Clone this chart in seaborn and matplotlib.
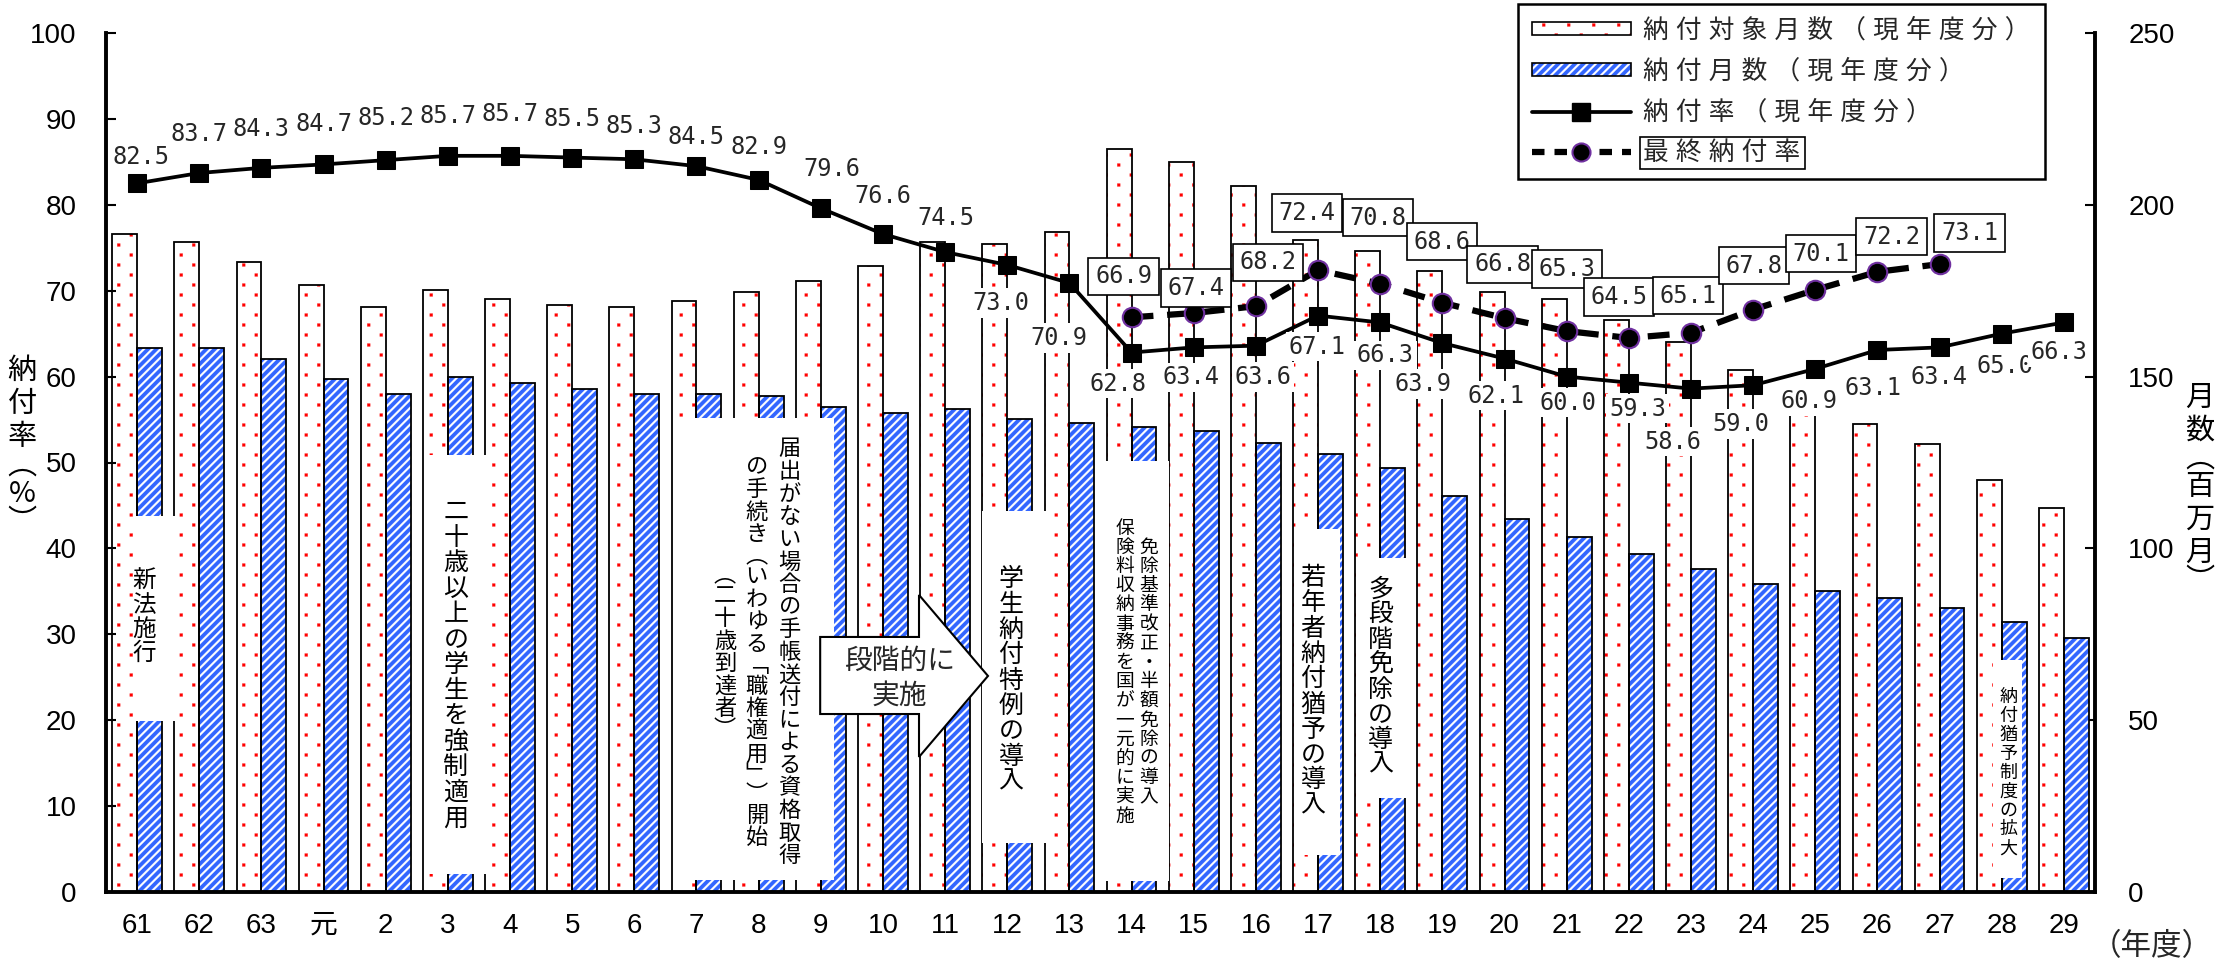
import numpy as np
import pandas as pd
import matplotlib
matplotlib.use("Agg")
import matplotlib.pyplot as plt
import matplotlib.hatch as mhatch
from matplotlib.path import Path
from matplotlib.patches import Rectangle, Polygon, Patch
from matplotlib.lines import Line2D
import seaborn as sns

# ---- data ---------------------------------------------------------------
years = ["61", "62", "63", "元"] + [str(y) for y in range(2, 30)]

# 納付対象月数（現年度分） [百万月]
target_months = [191.6, 189.1, 183.4, 176.6, 170.2, 175.2, 172.7, 170.7,
                 170.2, 172.0, 174.5, 177.8, 182.3, 189.1, 188.5, 192.2,
                 216.2, 212.5, 205.6, 189.8, 186.6, 180.8, 174.5, 172.6,
                 166.5, 160.0, 151.9, 144.0, 136.2, 130.5, 119.8, 111.8]
# 納付月数（現年度分） [百万月]
paid_months = [158.2, 158.2, 155.1, 149.4, 145.0, 150.0, 148.2, 146.3,
               145.0, 145.0, 144.4, 141.2, 139.3, 140.6, 137.6, 136.4,
               135.4, 134.3, 130.6, 127.4, 123.5, 115.3, 108.5, 103.4,
               98.5, 93.9, 89.6, 87.7, 85.7, 82.6, 78.6, 74.0]
# 納付率（現年度分） [%]
payment_rate = [82.5, 83.7, 84.3, 84.7, 85.2, 85.7, 85.7, 85.5, 85.3, 84.5,
                82.9, 79.6, 76.6, 74.5, 73.0, 70.9, 62.8, 63.4, 63.6, 67.1,
                66.3, 63.9, 62.1, 60.0, 59.3, 58.6, 59.0, 60.9, 63.1, 63.4,
                65.0, 66.3]
# 最終納付率 [%]
final_years = [str(y) for y in range(14, 28)]
final_rate = [66.9, 67.4, 68.2, 72.4, 70.8, 68.6, 66.8, 65.3, 64.5, 65.1,
              67.8, 70.1, 72.2, 73.1]

series_target = "納付対象月数（現年度分）"
series_paid = "納付月数（現年度分）"
series_rate = "納付率（現年度分）"
series_final = "最終納付率"

# ---- label placement (pixel offsets from each marker: dx, dy up) ---------
rate_label_offsets = [(4, 26), (0, 39), (0, 39), (0, 40), (0, 42), (0, 40),
                      (0, 42), (0, 39), (0, 33), (0, 29), (0, 33), (11, 39),
                      (0, 38), (1, 34), (-6, -38), (-11, -55), (-14, -31),
                      (-3, -30), (7, -31), (-1, -31), (5, -33), (-19, -41),
                      (-9, -37), (1, -26), (9, -26), (-18, -53), (-12, -39),
                      (-6, -32), (-4, -38), (-1, -30), (3, -32), (-5, -30)]
final_label_offsets = [(-8, 41), (2, 25), (12, 44), (-11, 57), (-2, 66),
                       (0, 61), (-2, 54), (0, 62), (-10, 41), (-3, 37),
                       (1, 44), (6, 36), (14, 35), (30, 31)]


# ---- fill patterns: sparse red dots and wide diagonal bands -------------
class SparseDots(mhatch.HatchPatternBase):
    """'.' -> small square dots on a staggered 12.5 x 20 px grid."""
    filled = True

    def __init__(self, hatch, density):
        self.pts = []
        if "." in hatch:
            for i in range(8):
                for j in range(5):
                    self.pts.append(((i + 0.5) / 8,
                                     (j + 0.25) / 5 + (i % 2) * 0.1))
        self.num_vertices = 5 * len(self.pts)

    def set_vertices_and_codes(self, vertices, codes):
        s = 0.0145
        for k, (x, y) in enumerate(self.pts):
            vertices[5 * k:5 * k + 5] = [(x - s, y - s), (x + s, y - s),
                                         (x + s, y + s), (x - s, y + s),
                                         (x - s, y - s)]
            codes[5 * k:5 * k + 5] = [Path.MOVETO, Path.LINETO, Path.LINETO,
                                      Path.LINETO, Path.CLOSEPOLY]


class DiagonalBands(mhatch.HatchPatternBase):
    """'/' -> filled 45-degree bands, 12 per hatch unit."""
    filled = True

    def __init__(self, hatch, density):
        n = 12 if "/" in hatch else 0
        self.width = 0.32 / 12
        self.offsets = np.arange(-2 * n, 2 * n + 1) / n if n else []
        self.num_vertices = 5 * len(self.offsets)

    def set_vertices_and_codes(self, vertices, codes):
        w = self.width
        for k, o in enumerate(self.offsets):
            vertices[5 * k:5 * k + 5] = [(o - 0.5, -0.5), (o + 1.5, 1.5),
                                         (o + 1.5 + w, 1.5), (o - 0.5 + w, -0.5),
                                         (o - 0.5, -0.5)]
            codes[5 * k:5 * k + 5] = [Path.MOVETO, Path.LINETO, Path.LINETO,
                                      Path.LINETO, Path.CLOSEPOLY]


_custom_hatches = hasattr(mhatch, "_hatch_types")
if _custom_hatches:
    mhatch._hatch_types = [t for t in mhatch._hatch_types
                           if t.__name__ not in ("SmallFilledCircles",
                                                 "NorthEastHatch")]
    mhatch._hatch_types += [SparseDots, DiagonalBands]

# ---- style ----------------------------------------------------------------
sns.set_theme(style="white")
JP = ["Noto Sans CJK JP", "DejaVu Sans"]
NUM = ["Liberation Sans", "Noto Sans CJK JP", "DejaVu Sans"]
MONO = ["DejaVu Sans Mono", "Noto Sans CJK JP"]
plt.rcParams["font.family"] = NUM
plt.rcParams["hatch.linewidth"] = 0.15 if _custom_hatches else 2.0

BLUE = "#3366ff"
RED = "#ff0000"
PT = 72 / 100.0          # points per pixel at 100 dpi
W_PX, H_PX = 2223, 960
HW_DOTS = 0.15 if _custom_hatches else 0.5
HW_BANDS = 0.15 if _custom_hatches else 2.0


def set_hatch_width(patch, lw):
    if hasattr(patch, "set_hatch_linewidth"):
        patch.set_hatch_linewidth(lw)


def spaced(s):
    return " ".join(list(s))


VERTICAL_FORMS = {"（": "\ufe35", "）": "\ufe36", "「": "\ufe41", "」": "\ufe42"}


def vertical_text(ax, x, y, text, size, pitch, coords="data", bracket=0.75,
                  zorder=4):
    """Stack the characters of `text` top-to-bottom, centred on (x, y)."""
    adv = [pitch * (bracket if c in VERTICAL_FORMS else 1.0) for c in text]
    cur = sum(adv) / 2.0
    for c, a in zip(text, adv):
        cy = cur - a / 2.0
        ax.annotate(VERTICAL_FORMS.get(c, c), xy=(x, y), xycoords=coords,
                    xytext=(0, cy * PT), textcoords="offset points",
                    ha="center", va="center", fontsize=size, family=JP,
                    color="black", zorder=zorder, annotation_clip=False)
        cur -= a


# ---- figure / axes --------------------------------------------------------
fig = plt.figure(figsize=(W_PX / 100, H_PX / 100), dpi=100)
left, right, bottom, top = 106 / W_PX, 2095 / W_PX, 1 - 892 / H_PX, 1 - 33 / H_PX
ax_bar = fig.add_axes([left, bottom, right - left, top - bottom])
ax_rate = ax_bar.twinx()

pos = np.arange(len(years))
bars = pd.DataFrame({
    "pos": np.concatenate([pos, pos]),
    "months": target_months + paid_months,
    "series": [series_target] * len(pos) + [series_paid] * len(pos),
})
sns.barplot(data=bars, x="pos", y="months", hue="series",
            hue_order=[series_target, series_paid], native_scale=True,
            width=0.8, errorbar=None, palette=["white", BLUE], saturation=1,
            legend=False, ax=ax_bar)

outlines = []
for p in list(ax_bar.patches):
    fc = p.get_facecolor()
    is_target = fc[0] > 0.9 and fc[1] > 0.9
    if is_target:
        p.set_facecolor("white")
        p.set_edgecolor(RED)
        p.set_hatch(".")
        set_hatch_width(p, HW_DOTS)
    else:
        p.set_facecolor(BLUE)
        p.set_edgecolor("white")
        p.set_hatch("//")
        set_hatch_width(p, HW_BANDS)
    p.set_linewidth(0)
    outlines.append((p.get_x(), p.get_width(), p.get_height(), p.get_zorder()))
for x0, w, h, z in outlines:
    ax_bar.add_patch(Rectangle((x0, 0), w, h, fill=False, ec="black",
                               lw=1.3, zorder=z + 0.1))

# ---- lines ------------------------------------------------------------------
sns.lineplot(x=pos, y=payment_rate, ax=ax_rate, color="black", lw=2.7,
             marker="s", markersize=12.5, markeredgecolor="black",
             markerfacecolor="black", zorder=4)
fpos = np.array([years.index(y) for y in final_years])
sns.lineplot(x=fpos, y=final_rate, ax=ax_rate, color="black", lw=4.5,
             linestyle=(0, (3.5, 2.2)), marker="o", markersize=14,
             markerfacecolor="black", markeredgecolor="#7030a0",
             markeredgewidth=1.5, zorder=4)

for x, v, (dx, dy) in zip(pos, payment_rate, rate_label_offsets):
    ax_rate.annotate(f"{v:.1f}", xy=(x, v), xytext=(dx * PT, dy * PT),
                     textcoords="offset points", ha="center", va="center",
                     fontsize=17, family=MONO, zorder=6,
                     bbox=dict(boxstyle="square,pad=0.12", fc="white",
                               ec="none"))
for x, v, (dx, dy) in zip(fpos, final_rate, final_label_offsets):
    ax_rate.annotate(f"{v:.1f}", xy=(x, v), xytext=(dx * PT, dy * PT),
                     textcoords="offset points", ha="center", va="center",
                     fontsize=17, family=MONO, zorder=7,
                     bbox=dict(boxstyle="square,pad=0.28", fc="white",
                               ec="black", lw=1.2))

# ---- policy notes -----------------------------------------------------------
panels = [(-0.07, 0.61, 19.9, 43.8), (4.62, 5.63, 2.1, 50.9),
          (8.64, 11.21, 1.4, 55.2), (13.59, 14.62, 5.7, 44.4),
          (15.41, 16.60, 1.3, 50.2), (18.61, 19.35, 4.3, 42.3),
          (19.61, 20.43, 10.9, 38.9), (29.86, 30.32, 1.6, 27.0)]
for x0, x1, y0, y1 in panels:
    ax_rate.add_patch(Rectangle((x0, y0), x1 - x0, y1 - y0, fc="white",
                                ec="none", zorder=2))

vertical_text(ax_rate, 0.11, 32.0, "新法施行", 17, 24)
vertical_text(ax_rate, 5.13, 26.4, "二十歳以上の学生を強制適用", 18, 25.5)
vertical_text(ax_rate, 10.50, 27.9, "届出がない場合の手帳送付による資格取得", 16, 22.6)
vertical_text(ax_rate, 9.97, 27.9, "の手続き（いわゆる「職権適用」）開始", 16, 22.6,
              bracket=0.85)
vertical_text(ax_rate, 9.46, 27.9, "（二十歳到達者）", 16, 22.6, bracket=0.85)
vertical_text(ax_rate, 14.06, 24.6, "学生納付特例の導入", 18, 25.3)
vertical_text(ax_rate, 16.28, 25.6, "免除基準改正・半額免除の導入", 13.5, 19.2)
vertical_text(ax_rate, 15.89, 25.6, "保険料収納事務を国が一元的に実施", 13.5, 19.2)
vertical_text(ax_rate, 18.92, 23.3, "若年者納付猶予の導入", 18, 25.3)
vertical_text(ax_rate, 20.01, 25.0, "多段階免除の導入", 18, 25.0)
vertical_text(ax_rate, 30.11, 13.9, "納付猶予制度の拡大", 13, 18.9)

arrow = Polygon([(10.99, 29.69), (12.58, 29.69), (12.58, 34.58), (13.69, 25.15),
                 (12.58, 15.72), (12.58, 20.72), (10.99, 20.72)],
                closed=True, fc="white", ec="black", lw=1.5, zorder=2.5)
ax_rate.add_patch(arrow)
ax_rate.text(12.27, 26.9, "段階的に", ha="center", va="center", fontsize=20,
             family=JP, zorder=4)
ax_rate.text(12.27, 22.8, "実施", ha="center", va="center", fontsize=20,
             family=JP, zorder=4)

# ---- axes -------------------------------------------------------------------
ax_bar.set_xlim(-0.5, len(years) - 0.5)
ax_bar.set_ylim(0, 250)
ax_rate.set_ylim(0, 100)
ax_bar.set_xlabel("")
ax_bar.set_ylabel("")
ax_rate.set_xlabel("")
ax_rate.set_ylabel("")

ax_bar.set_xticks(pos)
ax_bar.set_xticklabels(years)
ax_bar.set_xticks(pos[:-1] + 0.5, minor=True)
ax_bar.tick_params(axis="x", which="major", length=0, pad=15, labelsize=20)
ax_bar.tick_params(axis="x", which="minor", direction="in", length=6,
                   width=1.5, color="black")

ax_bar.yaxis.set_ticks_position("right")
ax_rate.yaxis.set_ticks_position("left")
ax_bar.set_yticks(np.arange(0, 251, 50))
ax_rate.set_yticks(np.arange(0, 101, 10))
ax_bar.tick_params(axis="y", direction="in", length=7, width=1.5, pad=24,
                   labelsize=20, color="black", right=True, left=False,
                   labelright=True, labelleft=False)
ax_rate.tick_params(axis="y", direction="in", length=7, width=1.5, pad=21,
                    labelsize=20, color="black", left=True, right=False,
                    labelleft=True, labelright=False)
for lbl in ax_bar.get_xticklabels() + ax_bar.get_yticklabels() + ax_rate.get_yticklabels():
    lbl.set_color("black")

for name, sp in ax_bar.spines.items():
    sp.set_visible(name != "top")
    sp.set_color("black")
    sp.set_linewidth(2.8)
for sp in ax_rate.spines.values():
    sp.set_visible(False)
ax_bar.grid(False)
ax_rate.grid(False)

# axis titles
vertical_text(ax_rate, 22, H_PX - 444, "納付率（%）", 21, 33, coords="figure pixels",
              bracket=0.7)
vertical_text(ax_rate, 2200, H_PX - 487, "月数（百万月）", 21, 33,
              coords="figure pixels", bracket=0.7)
fig.text(2152 / W_PX, 1 - 947 / H_PX, "（年度）", ha="center", va="center",
         fontsize=22, family=JP)

# ---- legend -----------------------------------------------------------------
h_target_fill = Patch(facecolor="white", edgecolor=RED, hatch=".", lw=0)
set_hatch_width(h_target_fill, HW_DOTS)
h_paid_fill = Patch(facecolor=BLUE, edgecolor="white", hatch="//", lw=0)
set_hatch_width(h_paid_fill, HW_BANDS)
h_target = (h_target_fill, Patch(fill=False, edgecolor="black", lw=1.2))
h_paid = (h_paid_fill, Patch(fill=False, edgecolor="black", lw=1.2))
h_rate = Line2D([], [], color="black", lw=2.7, marker="s", markersize=12.5)
h_final = Line2D([], [], color="black", lw=4.5, linestyle=(0, (2.0, 1.6)),
                 marker="o", markersize=13, markerfacecolor="black",
                 markeredgecolor="#7030a0", markeredgewidth=1.5)
LEG_FONT = ["Liberation Sans", "Noto Sans CJK JP", "DejaVu Sans"]
leg = ax_rate.legend(handles=[h_target, h_paid, h_rate, h_final],
                     labels=[spaced(series_target), spaced(series_paid),
                             spaced(series_rate), spaced(series_final)],
                     loc="upper right",
                     bbox_to_anchor=(2045 / W_PX, 1 - 4 / H_PX),
                     bbox_transform=fig.transFigure,
                     prop=dict(family=LEG_FONT, size=18.5), frameon=True,
                     fancybox=False, framealpha=1, edgecolor="black",
                     borderpad=0.55, labelspacing=0.64, handlelength=3.85,
                     handleheight=0.4, handletextpad=0.5, borderaxespad=0)
leg.get_frame().set_linewidth(1.8)
leg.set_zorder(20)
leg.get_texts()[3].set_bbox(dict(boxstyle="square,pad=0.15", fc="white",
                                 ec="black", lw=1.2))

fig.savefig("out.png", dpi=100)
